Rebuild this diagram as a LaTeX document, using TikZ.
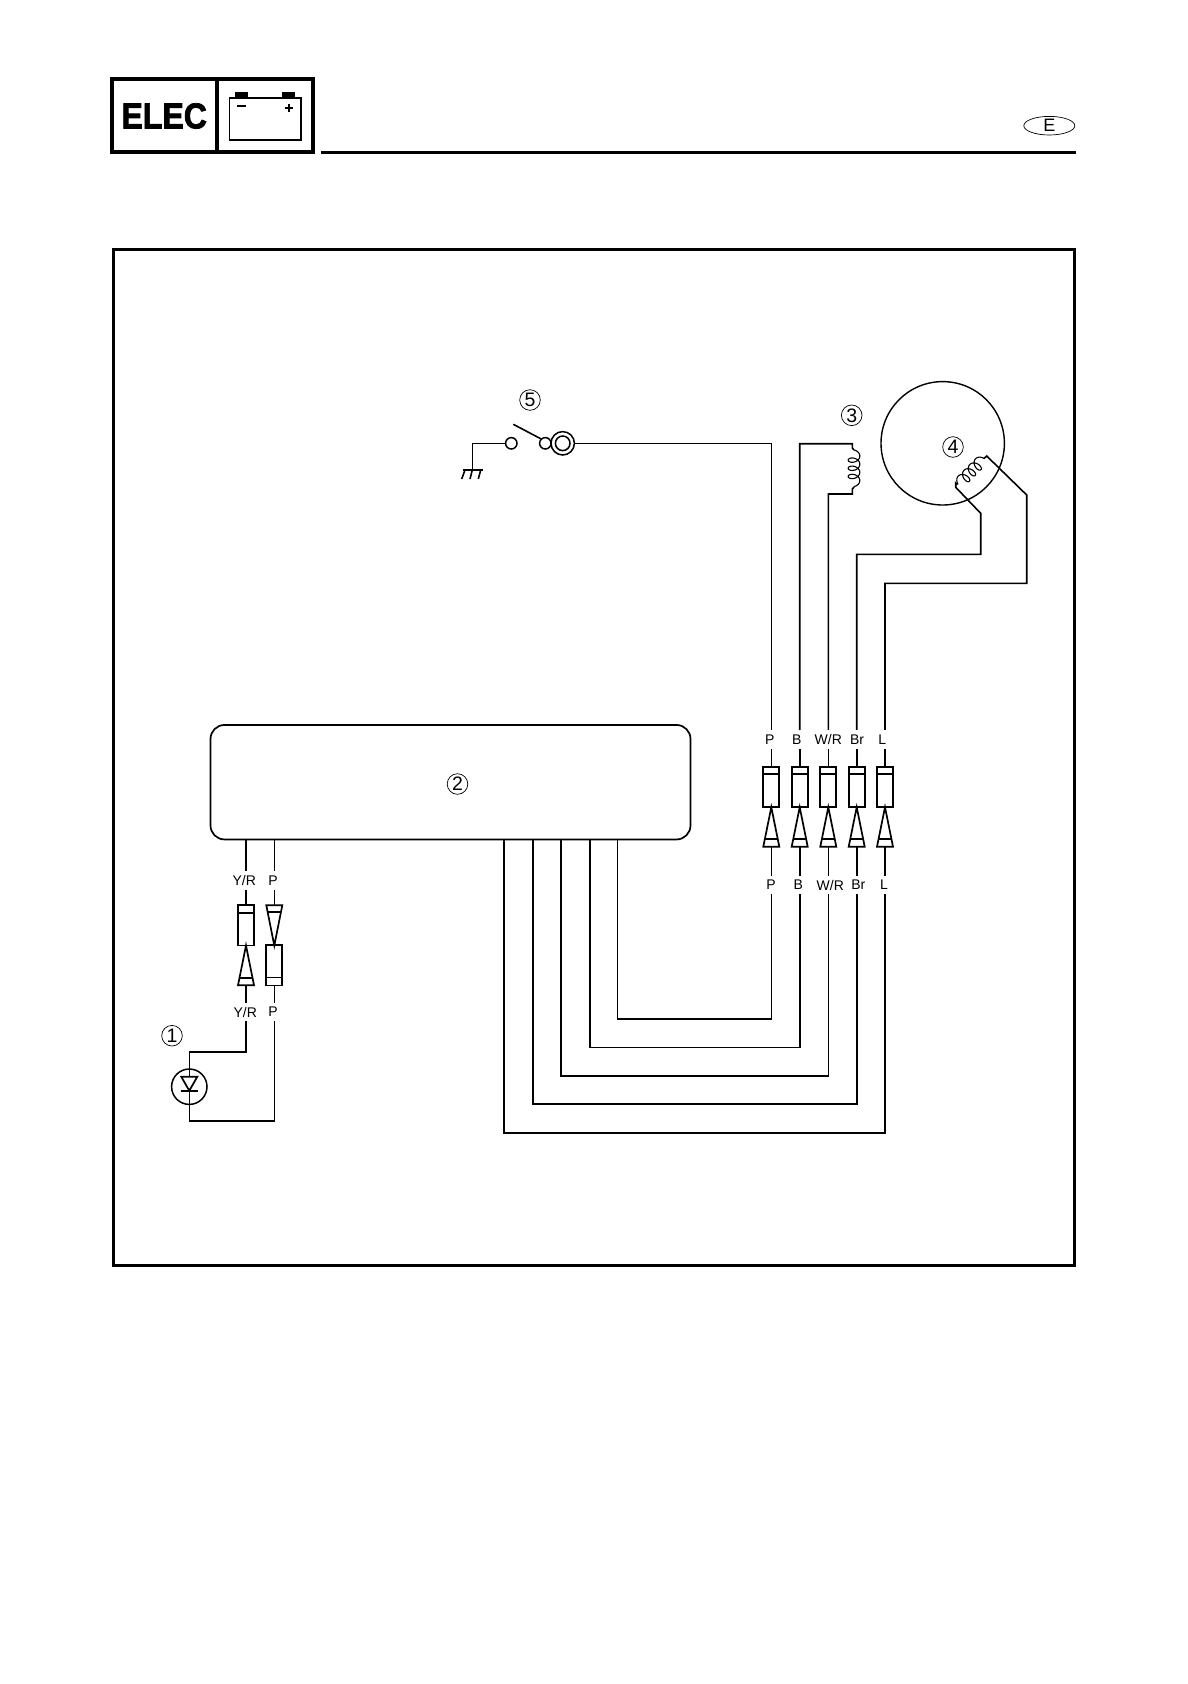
\documentclass[tikz,border=0pt]{standalone}
\usepackage{fontspec}
\usetikzlibrary{shapes.geometric}
\setmainfont{Liberation Sans}
\newfontfamily\heavyfont[FakeBold=2.2]{Liberation Sans Bold}
\tikzset{
  wire/.style={line width=1.6pt,line join=miter},
  plugbody/.style={draw,line width=1.7pt,rectangle,inner sep=0pt,minimum width=16pt,minimum height=40.4pt},
  plugline/.style={line width=1.7pt},
  wirelabel/.style={inner sep=0pt,minimum height=18.4pt,minimum width=10pt,font=\fontsize{14}{14}\selectfont},
  callout/.style={draw,circle,line width=.7pt,inner sep=0pt,minimum size=20.6pt,font=\fontsize{19.5}{19.5}\selectfont},
  frame/.style={line width=3pt},
  pin/.style={circle,draw,line width=1.5pt,inner sep=0pt,minimum size=11.4pt}
}
\newcommand{\bodymark}[2]{\draw[plugline] ([yshift=#2pt]#1.west) -- ([yshift=#2pt]#1.east);}
\newcommand{\plugtri}[2]{%
  \draw[plugline,line join=miter] (#1) -- ([xshift=-8pt]#2) -- ([xshift=8pt]#2) -- cycle;}
\newcommand{\pairstack}[5]{%
  \node[wirelabel] (top#1) at (#4,739.3) {#3};
  \node[plugbody] (sock#1) at (#2,787) {};
  \bodymark{sock#1}{12.7}
  \coordinate (apex#1) at (#2,807.2);
  \coordinate (base#1) at (#2,846.7);
  \plugtri{apex#1}{base#1}
  \draw[plugline] (#2-6.6,839.3) -- (#2+6.6,839.3);
  \node[wirelabel] (low#1) at (#5,885) {#3};
  \draw[wire] (sock#1.north) -- (sock#1.north |- top#1.south);
  \draw[wire] (base#1) -- (base#1 |- low#1.north);
}
\newcommand{\coilcurve}[6]{%
  \draw[line width=1.1pt] plot[domain=0:1260,samples=211,smooth,variable=\t]
   ({#1+#3*(1.3*rad(\t)-4*cos(\t)+4)+#5*5.8*sin(\t)},
    {#2+#4*(1.3*rad(\t)-4*cos(\t)+4)+#6*5.8*sin(\t)});}
\begin{document}
\begin{tikzpicture}[x=1pt,y=-1pt]
\useasboundingbox (0,0) rectangle (1188,1684);
% ---------- header ----------
\node[draw,line width=3.6pt,minimum width=201.4pt,minimum height=73pt,inner sep=0pt] (hdr) at (212.5,115.5) {};
\draw[line width=3.6pt] (216.7,78) coordinate (divtop) -- (216.7,153) coordinate (divbot);
\node[inner sep=0pt] (elec) at (164.2,116) {\fontsize{36}{36}\heavyfont\scalebox{.89}[1]{ELEC}};
\node[draw,line width=1.6pt,minimum width=71.5pt,minimum height=42.3pt,inner sep=0pt] (batt) at (265.2,118.9) {};
\fill (235,92) rectangle (247.7,98);
\fill (282.3,92) rectangle (295,98);
\draw[line width=1.8pt] (237,106) -- (245.7,106);
\draw[line width=1.8pt] (284.7,107.7) -- (292.7,107.7) (288.7,103.7) -- (288.7,111.7);
\draw[line width=3pt] (321,152.2) coordinate (rulel) -- (1076,152.2) coordinate (ruler);
\node[draw,ellipse,line width=.7pt,minimum width=51pt,minimum height=18.6pt,inner sep=0pt] (lang) at (1049.3,125.7) {};
\node[inner sep=0pt,font=\fontsize{18}{18}\selectfont] (langE) at (1049.3,125.7) {E};
% ---------- frame ----------
\node[draw,frame,minimum width=960.5pt,minimum height=1016pt,inner sep=0pt] (border) at (594.2,757) {};
% ---------- CDI unit ----------
\node[draw,line width=1.7pt,rounded corners=14pt,minimum width=480pt,minimum height=114.5pt,inner sep=0pt] (cdi) at (450.5,782.2) {};
\node[callout] (n2) at (457.5,784) {2};
% ---------- five plug pairs ----------
\pairstack{P}{771.3}{P}{769.7}{771}
\pairstack{B}{799.7}{B}{796.7}{798.3}
\pairstack{W}{828.3}{W/R}{828.3}{830.3}
\pairstack{R}{856.7}{Br}{857}{858.3}
\pairstack{L}{885}{L}{882.3}{884}
% harness below
\coordinate (d1) at (617.6,1019);
\coordinate (d2) at (589.7,1047.5);
\coordinate (d3) at (560.7,1076);
\coordinate (d4) at (532.7,1104);
\coordinate (d5) at (503.7,1133);
\draw[wire] (sockP |- lowP.south) -- (sockP |- d1) -- (d1) -- (d1 |- cdi.south);
\draw[wire] (sockB |- lowB.south) -- (sockB |- d2) -- (d2) -- (d2 |- cdi.south);
\draw[wire] (sockW |- lowW.south) -- (sockW |- d3) -- (d3) -- (d3 |- cdi.south);
\draw[wire] (sockR |- lowR.south) -- (sockR |- d4) -- (d4) -- (d4 |- cdi.south);
\draw[wire] (sockL |- lowL.south) -- (sockL |- d5) -- (d5) -- (d5 |- cdi.south);
% ---------- switch 5 ----------
\node[callout] (n5) at (530,400) {5};
\node[pin] (swA) at (511.3,443.3) {};
\node[pin] (swB) at (545.3,443.3) {};
\node[circle,draw,line width=1.5pt,inner sep=0pt,minimum size=23.4pt] (ringO) at (562.7,443.3) {};
\node[circle,draw,line width=1.5pt,inner sep=0pt,minimum size=14.6pt] (ringI) at (562.7,443.3) {};
\coordinate (armtip) at (513.3,424.3);
\draw[wire] (armtip) -- (swB.north west);
\coordinate (gnd) at (472.3,470);
\draw[wire] (swA.west) -- (swA.west -| gnd) -- (gnd);
\draw[wire] (462.7,470) -- (483.3,470);
\draw[wire] (465,470) -- (461.7,479) (472.3,470) -- (470,479) (480.7,470) -- (478.3,479);
\draw[wire] (ringO.east) -- (ringO.east -| sockP) -- (sockP.north |- topP.north);
% ---------- coil 3 ----------
\node[callout] (n3) at (851.7,415.3) {3};
\coordinate (c3a) at (852.3,443.7);
\coordinate (c3b) at (852.3,494);
\draw[wire] (sockB |- topB.north) -- (sockB |- c3a) -- (c3a) -- (852.3,448) -- (854,450);
\coilcurve{854}{450}{0}{1}{1}{0}
\draw[wire] (sockW |- topW.north) -- (sockW |- c3b) -- (c3b) -- (852.3,489) -- (854,487);
% ---------- stator 4 ----------
\node[draw,circle,line width=1.4pt,inner sep=0pt,minimum size=123.4pt] (rotor) at (942.7,443.3) {};
\node[callout] (n4) at (953,447) {4};
\coilcurve{984}{458.5}{-.707}{.707}{-.707}{-.707}
\coordinate (c4a) at (986.7,456);
\coordinate (c4b) at (955.7,487.3);
\draw[wire] (sockL |- topL.north) -- (885,583.3) -- (1026.7,583.3) -- (1026.7,495) -- (c4a) -- (984,458.5);
\draw[wire] (sockR |- topR.north) -- (856.7,554.3) -- (980.7,554.3) -- (980.7,513.3) -- (c4b) -- (955.7,483) -- (957.5,484.5);
% ---------- left plugs ----------
\node[wirelabel] (lab1) at (244.3,880.8) {Y/R};
\node[wirelabel] (lab2) at (273,880.8) {P};
\coordinate (w1) at (246,840);
\coordinate (w2) at (274.3,840);
\node[plugbody] (s1) at (246,925.3) {};
\bodymark{s1}{12.2}
\coordinate (a1) at (246,945.5);
\coordinate (b1) at (246,985.3);
\plugtri{a1}{b1}
\draw[plugline] (239.6,977.7) -- (252.4,977.7);
\coordinate (a2) at (274.3,945.5);
\coordinate (b2) at (274.3,905.3);
\plugtri{a2}{b2}
\draw[plugline] (268.1,912.3) -- (280.5,912.3);
\node[plugbody] (s2) at (274.3,965.4) {};
\bodymark{s2}{-12.2}
\node[wirelabel] (lab3) at (245.3,1012) {Y/R};
\node[wirelabel] (lab4) at (273,1012) {P};
\draw[wire] (w1) -- (w1 |- lab1.north);
\draw[wire] (w2) -- (w2 |- lab2.north);
\draw[wire] (w1 |- lab1.south) -- (s1.north);
\draw[wire] (w2 |- lab2.south) -- (b2);
\draw[wire] (b1) -- (b1 |- lab3.north);
\draw[wire] (s2.south) -- (s2.south |- lab4.north);
% ---------- diode 1 ----------
\node[callout] (n1) at (172,1035.7) {1};
\node[draw,circle,line width=1.5pt,inner sep=0pt,minimum size=35.4pt] (diode) at (189.3,1086.7) {};
\coordinate (dtop) at (189.3,1076.7);
\coordinate (dtip) at (189.3,1090.7);
\draw[plugline,line join=miter] ([xshift=-8pt]dtop) -- ([xshift=8pt]dtop) -- (dtip) -- cycle;
\draw[plugline] (180.5,1090.7) -- (198.1,1090.7);
\draw[wire] (b1 |- lab3.south) -- (246,1051.7) -- (189.3,1051.7) -- (dtop);
\draw[wire] (dtip) -- (189.3,1121) -- (274.3,1121) -- (b2 |- lab4.south);
\end{tikzpicture}
\end{document}
